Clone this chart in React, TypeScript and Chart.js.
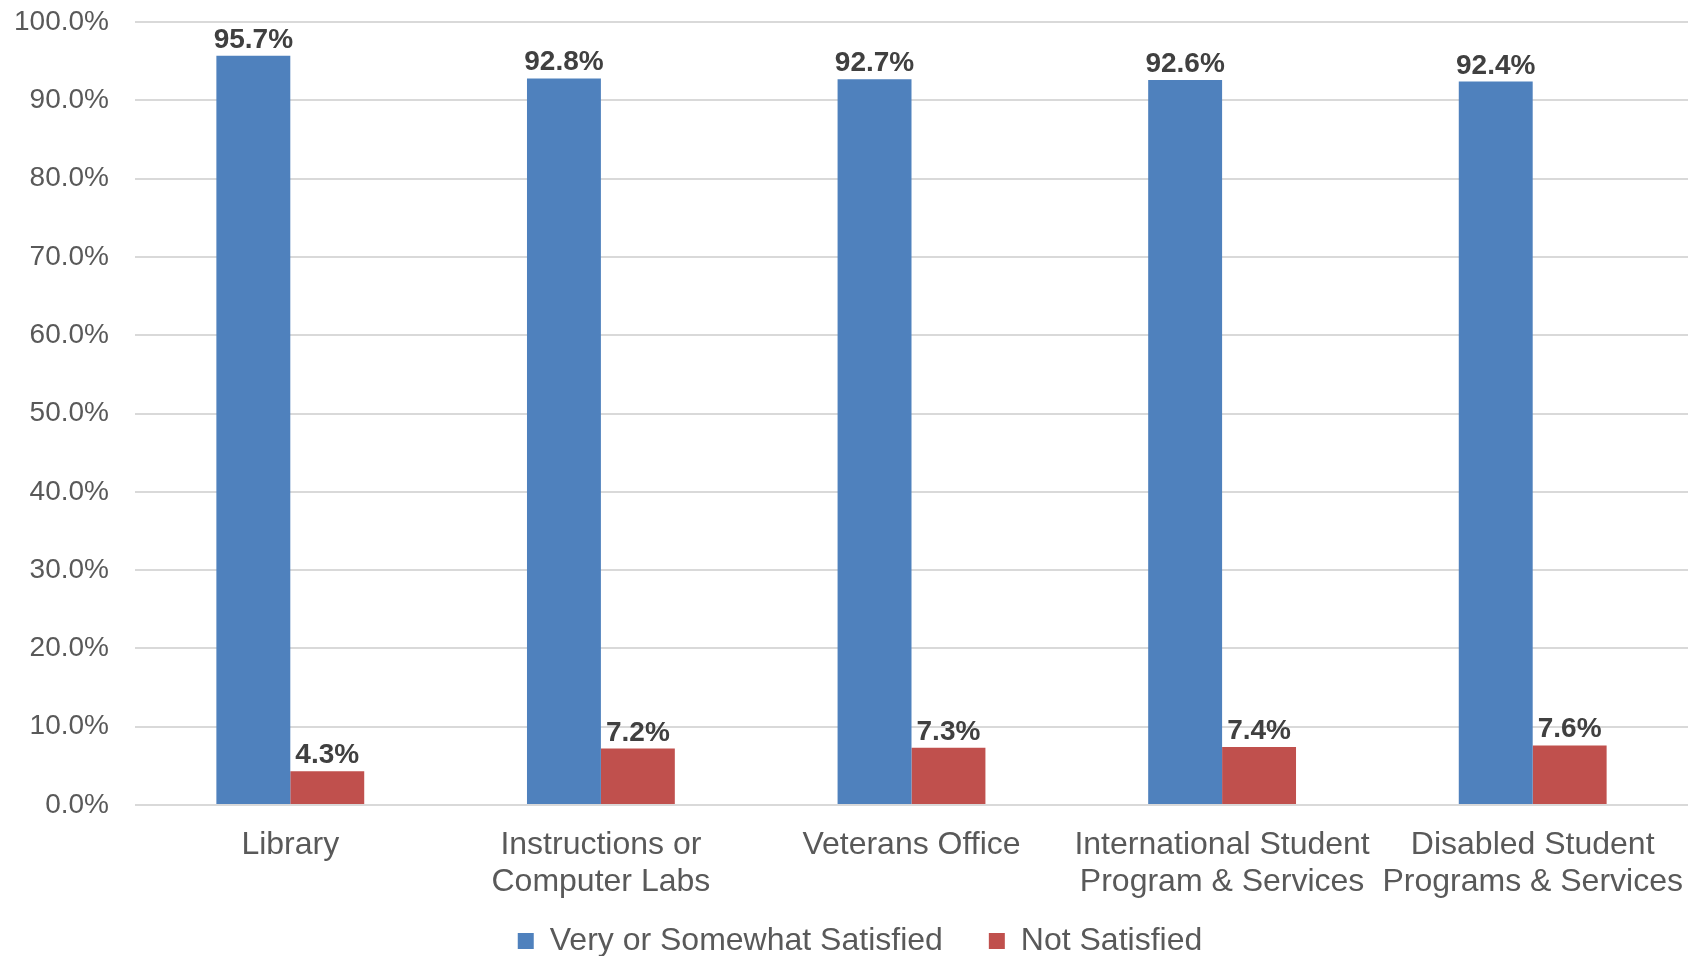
import React, { useEffect, useRef } from "react";
import { Chart, registerables } from "chart.js";

Chart.register(...registerables);

const categories: (string | string[])[] = [
  "Library",
  ["Instructions or", "Computer Labs"],
  "Veterans Office",
  ["International Student", "Program & Services"],
  ["Disabled Student", "Programs & Services"],
];
const satisfiedValues = [95.7, 92.8, 92.7, 92.6, 92.4];
const notSatisfiedValues = [4.3, 7.2, 7.3, 7.4, 7.6];
const seriesNames = ["Very or Somewhat Satisfied", "Not Satisfied"];
const yTickMin = 0;
const yTickMax = 100;
const yTickStep = 10;

const FONT = "'Liberation Sans', Arial, Helvetica, sans-serif";
const fmt = (v: number) => v.toFixed(1) + "%";

const dataLabelPlugin = {
  id: "dataLabels",
  afterDatasetsDraw(chart: any) {
    const ctx = chart.ctx;
    ctx.save();
    ctx.font = `bold 28px ${FONT}`;
    ctx.fillStyle = "#404040";
    ctx.textAlign = "center";
    ctx.textBaseline = "alphabetic";
    chart.data.datasets.forEach((ds: any, i: number) => {
      const meta = chart.getDatasetMeta(i);
      meta.data.forEach((el: any, j: number) => {
        ctx.fillText(fmt(ds.data[j]), el.x, el.y - 8);
      });
    });
    ctx.restore();
  },
};

// nudges the legend box to the reference position (top raised, bottom kept so nothing is clipped)
const legendOffsetPlugin = {
  id: "legendOffset",
  afterLayout(chart: any) {
    const lg = chart.legend;
    if (!lg) return;
    lg.top -= 26;
    lg.left += 16;
    lg.right += 16;
  },
};

export default function App() {
  const ref = useRef<HTMLCanvasElement | null>(null);
  useEffect(() => {
    document.body.style.margin = "0";
    if (!ref.current) return;
    const chart = new Chart(ref.current, {
      type: "bar",
      data: {
        labels: categories as any,
        datasets: [
          {
            label: seriesNames[0],
            data: satisfiedValues,
            backgroundColor: "#4F81BD",
            categoryPercentage: 0.476,
            barPercentage: 1,
          },
          {
            label: seriesNames[1],
            data: notSatisfiedValues,
            backgroundColor: "#C0504D",
            categoryPercentage: 0.476,
            barPercentage: 1,
          },
        ],
      },
      options: {
        responsive: false,
        animation: false,
        layout: { padding: { top: 22, right: 0, left: 0, bottom: 0 } },
        plugins: {
          tooltip: { enabled: false },
          legend: {
            position: "bottom",
            align: "center",
            maxHeight: 51,
            labels: {
              boxWidth: 16,
              boxHeight: 16,
              padding: 46,
              color: "#595959",
              font: { family: FONT, size: 32 },
            },
          },
        },
        scales: {
          x: {
            grid: {
              display: true,
              drawOnChartArea: false,
              drawTicks: true,
              tickLength: 21,
              tickColor: "rgba(0,0,0,0)",
              color: "rgba(0,0,0,0)",
            },
            border: { display: false },
            ticks: {
              color: "#595959",
              font: { family: FONT, size: 32, lineHeight: 1.17 },
              padding: 0,
              maxRotation: 0,
              autoSkip: false,
            },
            afterFit: (axis: any) => {
              axis.height = 100;
            },
          },
          y: {
            min: yTickMin,
            max: yTickMax,
            grid: {
              color: "#d9d9d9",
              lineWidth: 2,
              drawTicks: true,
              tickLength: 26,
              tickColor: "rgba(0,0,0,0)",
            },
            border: { display: false },
            ticks: {
              stepSize: yTickStep,
              color: "#595959",
              font: { family: FONT, size: 28 },
              padding: 0,
              callback: (v: any) => fmt(Number(v)),
            },
            afterFit: (axis: any) => {
              axis.width = 135;
            },
          },
        },
      },
      plugins: [dataLabelPlugin, legendOffsetPlugin],
    });
    return () => chart.destroy();
  }, []);
  return (
    <div style={{ width: 1688, height: 956, overflow: "hidden" }}>
      <canvas ref={ref} width={1688} height={956} style={{ display: "block" }} />
    </div>
  );
}
